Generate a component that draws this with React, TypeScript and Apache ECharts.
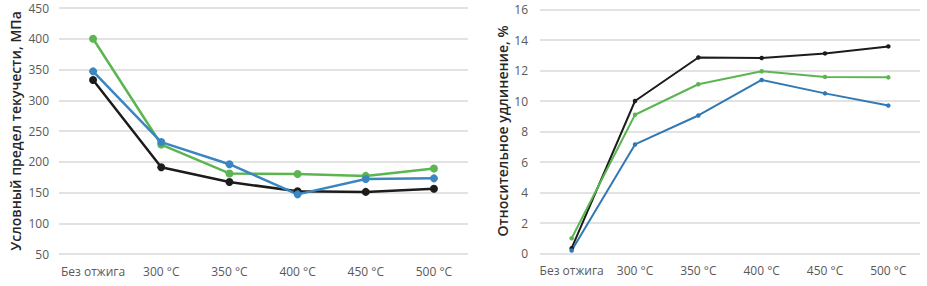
import React, { useEffect, useRef } from "react";
import * as echarts from "echarts";

const categories = ["Без отжига", "300 °C", "350 °C", "400 °C", "450 °C", "500 °C"];

// Left chart: yield strength, MPa
const yieldBlack = [333, 191, 167, 152, 151, 156];
const yieldGreen = [400, 228, 181, 180, 177, 189];
const yieldBlue = [347, 232, 196, 147, 172, 173];

// Right chart: elongation, %
const elongBlack = [0.35, 10.0, 12.85, 12.82, 13.12, 13.58];
const elongGreen = [1.0, 9.1, 11.1, 11.95, 11.58, 11.55];
const elongBlue = [0.2, 7.15, 9.05, 11.38, 10.5, 9.7];

const leftTitle = "Условный предел текучести, МПа";
const rightTitle = "Относительное удлинение, %";

const GREEN = "#5bb551";
const BLUE = "#3a86c2";
const BLUE_R = "#3278b3";
const BLACK = "#1c1c1c";
const FONT = "'Open Sans', 'Noto Sans', sans-serif";

export default function App() {
  const ref = useRef<HTMLDivElement>(null);
  useEffect(() => {
    document.body.style.margin = "0";
    const chart = echarts.init(ref.current!, null, { renderer: "svg" });
    const axisLabel = { color: "#595959", fontSize: 12, fontFamily: FONT };
    const catAxis = (gi: number) => ({
      type: "category",
      gridIndex: gi,
      data: categories,
      boundaryGap: true,
      axisLine: { show: false },
      axisTick: { show: false },
      axisLabel: { ...axisLabel, margin: 11, interval: 0 },
    });
    const line = (
      data: number[],
      color: string,
      xi: number,
      size: number,
      width: number
    ) => ({
      type: "line",
      xAxisIndex: xi,
      yAxisIndex: xi,
      data,
      symbol: "circle",
      symbolSize: size,
      lineStyle: { color, width },
      itemStyle: { color },
      silent: true,
    });
    chart.setOption({
      animation: false,
      backgroundColor: "#ffffff",
      grid: [
        { left: 59, top: 8, width: 409, height: 246 },
        { left: 540, top: 9.5, width: 380, height: 244 },
      ],
      xAxis: [catAxis(0), catAxis(1)],
      yAxis: [
        {
          type: "value",
          gridIndex: 0,
          min: 50,
          max: 450,
          interval: 50,
          axisLine: { show: false },
          axisTick: { show: false },
          axisLabel: { ...axisLabel, margin: 10 },
          splitLine: { lineStyle: { color: "#d9d9d9", width: 1.5 } },
        },
        {
          type: "value",
          gridIndex: 1,
          min: 0,
          max: 16,
          interval: 2,
          axisLine: { show: false },
          axisTick: { show: false },
          axisLabel: { ...axisLabel, margin: 12 },
          splitLine: { lineStyle: { color: "#d9d9d9", width: 1.5 } },
        },
      ],
      graphic: [
        {
          type: "text",
          x: 15,
          y: 131,
          rotation: Math.PI / 2,
          style: {
            text: leftTitle,
            fill: "#262626",
            font: `600 14px ${FONT}`,
            align: "center",
            verticalAlign: "middle",
          },
        },
        {
          type: "text",
          x: 502,
          y: 131,
          rotation: Math.PI / 2,
          style: {
            text: rightTitle,
            fill: "#262626",
            font: `600 14px ${FONT}`,
            align: "center",
            verticalAlign: "middle",
          },
        },
      ],
      series: [
        line(yieldBlack, BLACK, 0, 8, 2.5),
        line(yieldGreen, GREEN, 0, 8, 2.5),
        line(yieldBlue, BLUE, 0, 8, 2.5),
        line(elongBlack, BLACK, 1, 4.5, 2),
        line(elongGreen, GREEN, 1, 4.5, 2),
        line(elongBlue, BLUE_R, 1, 4.5, 2),
      ],
    });
    return () => chart.dispose();
  }, []);
  return (
    <div
      ref={ref}
      style={{ position: "absolute", left: 0, top: 0, width: 927, height: 286 }}
    />
  );
}
